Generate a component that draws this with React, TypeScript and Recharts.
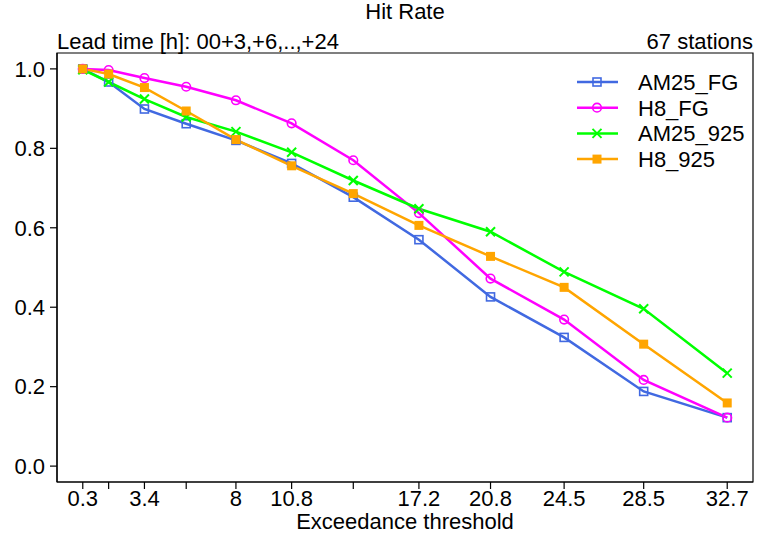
import React from "react";
import { LineChart, Line, XAxis, YAxis, Legend, ReferenceArea } from "recharts";

const thresholds = [0.3, 1.6, 3.4, 5.5, 8, 10.8, 13.9, 17.2, 20.8, 24.5, 28.5, 32.7];
const labelledTicks = [0.3, 3.4, 8, 10.8, 17.2, 20.8, 24.5, 28.5, 32.7];
const yTicks = [0, 0.2, 0.4, 0.6, 0.8, 1.0];

const am25Fg = [1.0, 0.967, 0.899, 0.862, 0.82, 0.762, 0.677, 0.57, 0.426, 0.324, 0.188, 0.122];
const h8Fg = [1.0, 0.997, 0.977, 0.955, 0.921, 0.863, 0.77, 0.637, 0.472, 0.369, 0.217, 0.122];
const am25925 = [0.998, 0.967, 0.924, 0.879, 0.842, 0.79, 0.719, 0.648, 0.59, 0.489, 0.396, 0.234];
const h8925 = [1.0, 0.987, 0.953, 0.894, 0.822, 0.756, 0.686, 0.606, 0.528, 0.45, 0.307, 0.159];

type Kind = "openSquare" | "openCircle" | "cross" | "square";

const series: { key: string; name: string; color: string; kind: Kind }[] = [
  { key: "am25Fg", name: "AM25_FG", color: "#4169e1", kind: "openSquare" },
  { key: "h8Fg", name: "H8_FG", color: "#ff00ff", kind: "openCircle" },
  { key: "am25925", name: "AM25_925", color: "#00ff00", kind: "cross" },
  { key: "h8925", name: "H8_925", color: "#ffa500", kind: "square" },
];

const data = thresholds.map((t, i) => ({
  t,
  am25Fg: am25Fg[i],
  h8Fg: h8Fg[i],
  am25925: am25925[i],
  h8925: h8925[i],
}));

const X_DOMAIN: [number, number] = [-0.996, 33.996];
const Y_DOMAIN: [number, number] = [-0.04, 1.04];
const FONT = "'Liberation Sans', Arial, Helvetica, sans-serif";

function Marker({ cx, cy, kind, color }: { cx: number; cy: number; kind: Kind; color: string }) {
  if (kind === "openSquare")
    return <rect x={cx - 4} y={cy - 4} width={8} height={8} fill="none" stroke={color} strokeWidth={1.6} />;
  if (kind === "openCircle") return <circle cx={cx} cy={cy} r={4.3} fill="none" stroke={color} strokeWidth={1.6} />;
  if (kind === "cross")
    return (
      <g stroke={color} strokeWidth={2}>
        <line x1={cx - 4.5} y1={cy - 4.5} x2={cx + 4.5} y2={cy + 4.5} />
        <line x1={cx - 4.5} y1={cy + 4.5} x2={cx + 4.5} y2={cy - 4.5} />
      </g>
    );
  return <rect x={cx - 4.5} y={cy - 4.5} width={9} height={9} fill={color} />;
}

function XTick({ x, y, payload }: any) {
  if (!labelledTicks.includes(payload.value)) return null;
  return (
    <text x={x} y={y} dy={17} textAnchor="middle" fontSize={22} fontFamily={FONT} fill="#000">
      {String(payload.value)}
    </text>
  );
}

function SeriesLegend() {
  return (
    <svg width={180} height={110} style={{ display: "block" }}>
      {series.map((s, i) => {
        const cy = 16 + i * 25.7;
        return (
          <g key={s.key}>
            <line x1={7} x2={48} y1={cy} y2={cy} stroke={s.color} strokeWidth={2.5} />
            <Marker cx={27} cy={cy} kind={s.kind} color={s.color} />
            <text x={68} y={cy + 8} fontSize={22} fontFamily={FONT} fill="#000">
              {s.name}
            </text>
          </g>
        );
      })}
    </svg>
  );
}

export default function App() {
  return (
    <div style={{ position: "relative", width: 758, height: 542, background: "#fff", fontFamily: FONT }}>
      <style>{`body{margin:0}`}</style>
      <LineChart width={758} height={542} data={data} margin={{ top: 53, right: 5, bottom: 0, left: 0 }}>
        <XAxis
          dataKey="t"
          type="number"
          domain={X_DOMAIN}
          ticks={thresholds}
          interval={0}
          allowDataOverflow
          height={60}
          tickSize={7}
          tickMargin={0}
          axisLine={{ stroke: "#000", strokeWidth: 1.2 }}
          tickLine={{ stroke: "#000", strokeWidth: 1.2 }}
          tick={<XTick />}
          label={{
            content: () => (
              <text x={405} y={529} textAnchor="middle" fontSize={22} fontFamily={FONT} fill="#000">
                Exceedance threshold
              </text>
            ),
          }}
        />
        <YAxis
          type="number"
          domain={Y_DOMAIN}
          ticks={yTicks}
          interval={0}
          allowDataOverflow
          width={57}
          tickSize={7}
          tickMargin={5}
          axisLine={{ stroke: "#000", strokeWidth: 1.2 }}
          tickLine={{ stroke: "#000", strokeWidth: 1.2 }}
          tick={{ fontSize: 22, fontFamily: FONT, fill: "#000" }}
          tickFormatter={(v: number) => v.toFixed(1)}
        />
        <ReferenceArea
          x1={X_DOMAIN[0]}
          x2={X_DOMAIN[1]}
          y1={Y_DOMAIN[0]}
          y2={Y_DOMAIN[1]}
          fill="none"
          fillOpacity={0}
          stroke="#000"
          strokeWidth={1.2}
          ifOverflow="visible"
        />
        <Legend
          verticalAlign="middle"
          align="center"
          layout="vertical"
          wrapperStyle={{ position: "absolute", left: 570, top: 66, width: 180 }}
          content={() => <SeriesLegend />}
        />
        {series.map((s) => (
          <Line
            key={s.key}
            dataKey={s.key}
            name={s.name}
            type="linear"
            stroke={s.color}
            strokeWidth={2.5}
            isAnimationActive={false}
            dot={(p: any) => <Marker key={`${s.key}-${p.index}`} cx={p.cx} cy={p.cy} kind={s.kind} color={s.color} />}
            activeDot={false}
          />
        ))}
      </LineChart>
      <svg width={758} height={60} style={{ position: "absolute", left: 0, top: 0, pointerEvents: "none" }}>
        <text x={405} y={19} textAnchor="middle" fontSize={22} fontFamily={FONT} fill="#000">
          Hit Rate
        </text>
        <text x={57} y={49} fontSize={22} fontFamily={FONT} fill="#000">
          Lead time [h]: 00+3,+6,..,+24
        </text>
        <text x={753} y={49} textAnchor="end" fontSize={22} fontFamily={FONT} fill="#000">
          67 stations
        </text>
      </svg>
    </div>
  );
}
